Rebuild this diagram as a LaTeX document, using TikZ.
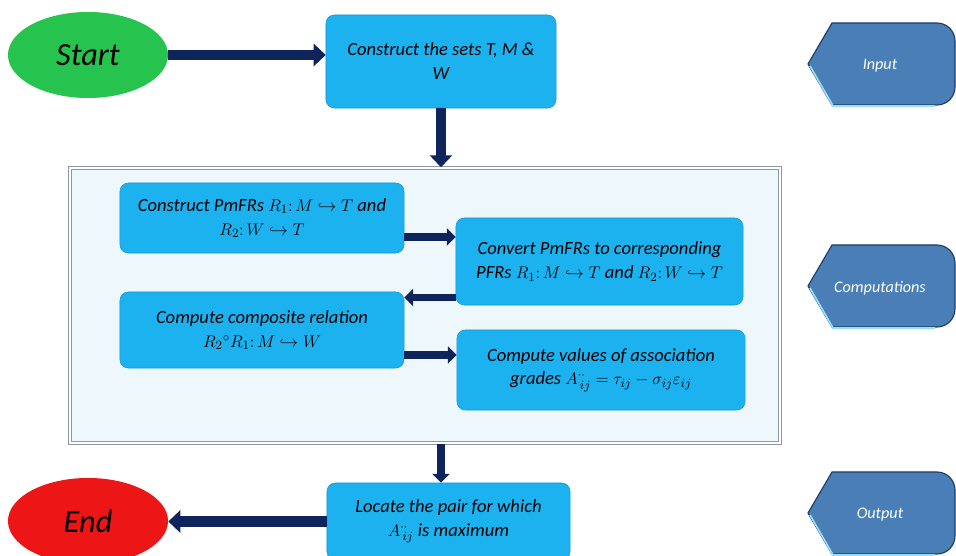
\documentclass[tikz,border=0pt]{standalone}
\usepackage{fontspec}
\setmainfont{Carlito}
\usetikzlibrary{arrows.meta, positioning, shapes.geometric}
\definecolor{navy}{RGB}{16,36,92}
\definecolor{boxcyan}{RGB}{28,178,240}
\definecolor{boxedge}{RGB}{18,150,215}
\definecolor{startgreen}{RGB}{38,196,78}
\definecolor{endred}{RGB}{236,22,22}
\definecolor{framefill}{RGB}{238,248,252}
\definecolor{framegray}{RGB}{140,152,165}
\definecolor{tagblue}{RGB}{74,126,182}
\definecolor{tagdark}{RGB}{30,60,100}

\begin{document}
\begin{tikzpicture}[
  x=0.025cm, y=-0.025cm,
  box/.style={rectangle, rounded corners=6pt, draw=boxedge, fill=boxcyan,
              align=center, inner sep=2pt,
              font=\fontsize{13.2}{17}\selectfont\itshape},
  oval/.style={ellipse, minimum width=4cm, minimum height=2.15cm,
               font=\fontsize{23}{27}\selectfont\itshape},
  tagtext/.style={text=white, font=\fontsize{11.5}{13}\selectfont\itshape},
  arr/.style={-{Triangle[length=0.3cm, width=0.55cm]}, line width=0.27cm, color=navy},
  arrs/.style={-{Triangle[length=0.22cm, width=0.42cm]}, line width=0.19cm, color=navy},
]
  \useasboundingbox (0,0) rectangle (956,556);
  \clip (0,0) rectangle (956,556);

  % computation frame
  \node[rectangle, draw=framegray, line width=1pt, double=white, double distance=1pt,
        fill=framefill, minimum width=17.75cm, minimum height=6.875cm]
        (frame) at (425,305.5) {};

  \node[oval, fill=startgreen] (start) at (88,55) {Start};
  \node[box, minimum width=5.75cm, minimum height=2.325cm] (sets) at (441,61.5)
    {Construct the sets T, M \&\\ W};

  \node[box, minimum width=7.1cm, minimum height=1.75cm] (pmfr) at (262,218)
    {Construct PmFRs $R_1\colon M \hookrightarrow T$ and\\ $R_2\colon W \hookrightarrow T$};
  \node[box, minimum width=7.175cm, minimum height=2.175cm] (pfr) at (599.5,261.5)
    {Convert PmFRs to corresponding\\ PFRs $R_1\colon M \hookrightarrow T$ and $R_2\colon W \hookrightarrow T$};
  \node[box, minimum width=7.1cm, minimum height=1.9cm] (comp) at (262,330)
    {Compute composite relation\\ $R_2{}^{\circ}R_1\colon M \hookrightarrow W$};
  \node[box, minimum width=7.2cm, minimum height=2cm] (assoc) at (601,370)
    {Compute values of association\\ grades $A^{\cdot\cdot}_{\,ij} = \tau_{ij} - \sigma_{ij}\varepsilon_{ij}$};

  \node[box, minimum width=6.075cm, minimum height=1.925cm] (locate) at (448.5,521.5)
    {Locate the pair for which\\ $A^{\cdot\cdot}_{\,ij}$ is maximum};
  \node[oval, fill=endred] (endn) at (88,521) {End};

  % side tags
  \foreach \ty/\tx in {64/Input, 286/Computations, 513/Output} {
    \filldraw[fill=tagblue, draw=tagdark, line width=0.8pt]
      (808,\ty) -- (832,\ty-41) [rounded corners=0.45cm] -- (955,\ty-41)
      -- (955,\ty+41) [sharp corners] -- (832,\ty+41) -- cycle;
    \draw[cyan!40, line width=1.2pt] (810,\ty+2) -- (833,\ty+42) -- (935,\ty+42);
    \node[tagtext] (tag-\tx) at (880,\ty+2) {\tx};
  }

  \draw[arr] (start.east) -- (start.east -| sets.west);
  \draw[arr] (sets.south) -- (sets.south |- frame.north);
  \draw[arrs] ([yshift=-0.475cm]pmfr.east) -- ([yshift=-0.475cm]pmfr.east -| pfr.west);
  \draw[arrs] ([yshift=-0.9cm]pfr.west) -- ([yshift=-0.9cm]pfr.west -| comp.east);
  \draw[arrs] ([yshift=-0.625cm]comp.east) -- ([yshift=-0.625cm]comp.east -| assoc.west);
  \draw[arrs] (frame.south -| sets.south) -- (sets.south |- locate.north);
  \draw[arr] (locate.west) -- (locate.west -| endn.east);
\end{tikzpicture}
\end{document}
